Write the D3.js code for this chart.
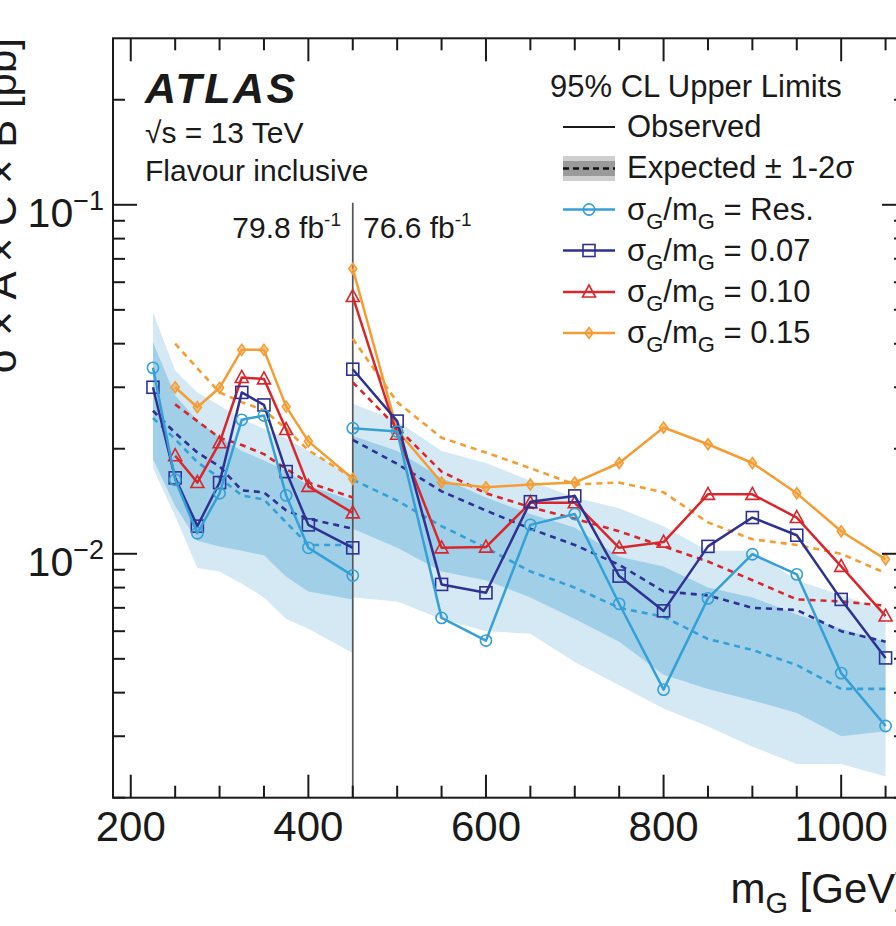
<!DOCTYPE html>
<html><head><meta charset="utf-8">
<script src="https://cdn.jsdelivr.net/npm/d3@7"></script>
<style>
body{margin:0;background:#fff}
svg{display:block}
text{font-family:"Liberation Sans",Arial,Helvetica,sans-serif;fill:#1a1a1a}
</style>
</head><body><svg id="c" width="896" height="926"></svg>
<script>
// ---------------- data ----------------
const massLeft  = [225, 250, 275, 300, 325, 350, 375, 400, 450];
const massRight = [450, 500, 550, 600, 650, 700, 750, 800, 850, 900, 950, 1000, 1050];

// observed limits, low-mass range (79.8 fb-1)
const obsResL = [0.0341, 0.0163, 0.01145, 0.0149, 0.0242, 0.0249, 0.0147, 0.0104, 0.00866];
const obs07L  = [0.0300, 0.0165, 0.0120, 0.0160, 0.0290, 0.0267, 0.0172, 0.0121, 0.0104];
const obs10L  = [null, 0.0191, 0.0160, 0.0208, 0.0320, 0.0317, 0.0227, 0.0156, 0.0131];
const obs15L  = [null, 0.0300, 0.0263, 0.0299, 0.0384, 0.0384, 0.0264, 0.0210, 0.0164];
// expected limits, low-mass range
const expResL = [0.0245, 0.0213, 0.0183, 0.0165, 0.0147, 0.0143, 0.0123, 0.0106, 0.0106];
const exp07L  = [0.0257, 0.0222, 0.0195, 0.0178, 0.0152, 0.0150, 0.0133, 0.0126, 0.0118];
const exp10L  = [null, 0.0268, 0.0240, 0.0215, 0.0205, 0.0193, 0.0175, 0.0160, 0.0145];
const exp15L  = [null, 0.0400, 0.0340, 0.0290, 0.0272, 0.0258, 0.0228, 0.0198, 0.0165];
// expected +-1/2 sigma bands, low-mass range
const up2L = [0.0492, 0.0335, 0.0290, 0.0266, 0.0244, 0.0228, 0.0214, 0.0197, 0.0166];
const up1L = [0.0404, 0.0284, 0.0241, 0.0216, 0.0197, 0.0185, 0.0173, 0.0157, 0.0142];
const dn1L = [0.0187, 0.0137, 0.0109, 0.0105, 0.0102, 0.0099, 0.0086, 0.0078, 0.0074];
const dn2L = [0.0176, 0.0128, 0.0091, 0.0089, 0.0082, 0.0075, 0.0065, 0.0061, 0.0052];

// observed limits, high-mass range (76.6 fb-1)
const obsResR = [0.0229, 0.0224, 0.00655, 0.00564, 0.0121, 0.0130, 0.00719, 0.00408, 0.00745, 0.00997, 0.00873, 0.00455, 0.00321];
const obs07R  = [0.0338, 0.0240, 0.00817, 0.00773, 0.0141, 0.01465, 0.00863, 0.00686, 0.0105, 0.0127, 0.0113, 0.0074, 0.00503];
const obs10R  = [0.0546, 0.0220, 0.0104, 0.01045, 0.0140, 0.0140, 0.0104, 0.0108, 0.0148, 0.0148, 0.0127, 0.0092, 0.00663];
const obs15R  = [0.0656, 0.0226, 0.0160, 0.0155, 0.0158, 0.0160, 0.0182, 0.0230, 0.0206, 0.0182, 0.0149, 0.0116, 0.00964];
// expected limits, high-mass range
const expResR = [0.0163, 0.0142, 0.0120, 0.0104, 0.0089, 0.0080, 0.0070, 0.0066, 0.0057, 0.0053, 0.0048, 0.0041, 0.0041];
const exp07R  = [0.0212, 0.0181, 0.0151, 0.0133, 0.0118, 0.0106, 0.0093, 0.0078, 0.0076, 0.0070, 0.0069, 0.0060, 0.0056];
const exp10R  = [0.0310, 0.0230, 0.0172, 0.0149, 0.0136, 0.0126, 0.0116, 0.0105, 0.0095, 0.0084, 0.0074, 0.0073, 0.0071];
const exp15R  = [0.0413, 0.0272, 0.0215, 0.0195, 0.0176, 0.0158, 0.0160, 0.0150, 0.0123, 0.0110, 0.0106, 0.0100, 0.0088];
// bands, high-mass range
const up2R = [0.0269, 0.0240, 0.0197, 0.0182, 0.0162, 0.0145, 0.0135, 0.0120, 0.0102, 0.0102, 0.0084, 0.0076, 0.0069];
const up1R = [0.0218, 0.0197, 0.0165, 0.0145, 0.0130, 0.0119, 0.0098, 0.0092, 0.0080, 0.0075, 0.0067, 0.0061, 0.0056];
const dn1R = [0.0118, 0.0104, 0.0089, 0.0084, 0.0075, 0.0065, 0.0056, 0.0045, 0.0041, 0.0038, 0.0035, 0.0030, 0.0031];
const dn2R = [0.0075, 0.0073, 0.0065, 0.0060, 0.0059, 0.0049, 0.0042, 0.0036, 0.0032, 0.0028, 0.0025, 0.0025, 0.0023];

const seriesNames = ["Res.", "0.07", "0.10", "0.15"];
const xMajorTicks = [200, 400, 600, 800, 1000];
const yMajorTicks = [0.01, 0.1];
const yTickExp = ["\u22122", "\u22121"];
const lumiLabels = ["79.8 fb", "76.6 fb"];
const splitMass = 450;

// ---------------- layout / style ----------------
const L = 113, R = 906, T = 38.3, B = 797.7;
const colors = ["#35a0d5", "#2e3192", "#d7272d", "#f49d34"];
const markers = ["circle", "square", "triangle", "diamond"];
const bandOuter = "#d5e9f5", bandInner = "#a2cfe8";

const svg = d3.select("#c");
const x = d3.scaleLinear().domain([180, 1073]).range([L, R]);
const y = d3.scaleLog().domain([0.002, 0.3]).range([B, T]);

// bands
function band(ms, lo, hi, fill) {
  const pts = ms.map((m, i) => ({m, lo: lo[i], hi: hi[i]}));
  svg.append("path").datum(pts)
    .attr("d", d3.area().x(d => x(d.m)).y0(d => y(d.lo)).y1(d => y(d.hi)))
    .attr("fill", fill).attr("stroke", "none");
}
band(massLeft, dn2L, up2L, bandOuter);
band(massLeft, dn1L, up1L, bandInner);
band(massRight, dn2R, up2R, bandOuter);
band(massRight, dn1R, up1R, bandInner);

// divider
svg.append("line").attr("x1", x(splitMass)).attr("x2", x(splitMass))
  .attr("y1", y(0.1) - 2).attr("y2", B).attr("stroke", "#555").attr("stroke-width", 1.7);

const line = d3.line().defined(d => d.v != null).x(d => x(d.m)).y(d => y(d.v));
function drawLine(ms, vals, color, dashed) {
  const pts = ms.map((m, i) => ({m, v: vals[i]}));
  svg.append("path").datum(pts).attr("d", line)
    .attr("fill", "none").attr("stroke", color)
    .attr("stroke-width", dashed ? 2.6 : 2.5)
    .attr("stroke-dasharray", dashed ? "6,5" : null)
    .attr("stroke-linejoin", "round");
}
function marker(g, type, cx, cy, color) {
  let el;
  if (type === "circle") el = g.append("circle").attr("cx", cx).attr("cy", cy).attr("r", 5.6);
  else if (type === "square") el = g.append("rect").attr("x", cx - 6).attr("y", cy - 6).attr("width", 12).attr("height", 12);
  else if (type === "triangle") el = g.append("path").attr("d", `M${cx},${cy-7}L${cx+6.5},${cy+5}L${cx-6.5},${cy+5}Z`);
  else el = g.append("path").attr("d", `M${cx},${cy-5.5}L${cx+4},${cy}L${cx},${cy+5.5}L${cx-4},${cy}Z`);
  el.attr("fill", type === "diamond" ? color : "none").attr("fill-opacity", type === "diamond" ? 0.5 : null)
    .attr("stroke", color).attr("stroke-width", 1.6);
}
function drawObs(ms, vals, k) {
  drawLine(ms, vals, colors[k], false);
  const g = svg.append("g");
  ms.forEach((m, i) => { if (vals[i] != null) marker(g, markers[k], x(m), y(vals[i]), colors[k]); });
}

const expL = [expResL, exp07L, exp10L, exp15L], expR = [expResR, exp07R, exp10R, exp15R];
const obsL = [obsResL, obs07L, obs10L, obs15L], obsR = [obsResR, obs07R, obs10R, obs15R];
[3, 2, 1, 0].forEach(k => { drawLine(massLeft, expL[k], colors[k], true); drawLine(massRight, expR[k], colors[k], true); });
[3, 2, 1, 0].forEach(k => { drawObs(massLeft, obsL[k], k); drawObs(massRight, obsR[k], k); });

// ---------------- frame & ticks ----------------
const frame = svg.append("g").attr("stroke", "#1a1a1a").attr("stroke-width", 2).attr("fill", "none");
frame.append("rect").attr("x", L).attr("y", T).attr("width", R - L).attr("height", B - T);
const xMinor = d3.range(200, 1051, 50);
xMinor.forEach(v => {
  const len = xMajorTicks.includes(v) ? 23 : 12;
  frame.append("line").attr("x1", x(v)).attr("x2", x(v)).attr("y1", B).attr("y2", B - len);
  frame.append("line").attr("x1", x(v)).attr("x2", x(v)).attr("y1", T).attr("y2", T + len);
});
const yTicks = [];
[0.001, 0.01, 0.1].forEach(d => d3.range(1, 10).forEach(k => { const v = +(k * d).toPrecision(3); if (v >= 0.002 && v < 0.3) yTicks.push(v); }));
yTicks.forEach(v => {
  const len = yMajorTicks.includes(v) ? 24 : 12;
  frame.append("line").attr("x1", L).attr("x2", L + len).attr("y1", y(v)).attr("y2", y(v));
  frame.append("line").attr("x1", R).attr("x2", R - len).attr("y1", y(v)).attr("y2", y(v));
});

// tick labels
svg.append("g").selectAll("text").data(xMajorTicks).join("text")
  .attr("x", d => x(d)).attr("y", 841).attr("text-anchor", "middle")
  .attr("font-size", 42).text(d => d);
yMajorTicks.forEach((v, i) => {
  const t = svg.append("text").attr("x", 104).attr("y", y(v) + 22).attr("text-anchor", "end").attr("font-size", 41);
  t.append("tspan").text("10");
  t.append("tspan").attr("font-size", 27).attr("dy", -17).text(yTickExp[i]);
});

// axis titles
const xt = svg.append("text").attr("x", 907).attr("y", 903).attr("text-anchor", "end").attr("font-size", 42);
xt.append("tspan").text("m");
xt.append("tspan").attr("font-size", 29).attr("dy", 10).text("G");
xt.append("tspan").attr("dy", -10).text(" [GeV]");
svg.append("text").attr("transform", "translate(16,38) rotate(-90)").attr("text-anchor", "end")
  .attr("font-size", 42).text("\u03c3 \u00d7 A \u00d7 C \u00d7 B [pb]");

// ---------------- annotations ----------------
svg.append("text").attr("x", 145).attr("y", 103).attr("font-size", 43).attr("font-weight", "bold")
  .attr("font-style", "italic").attr("letter-spacing", 2.5).text("ATLAS");
svg.append("text").attr("x", 145).attr("y", 143).attr("font-size", 30).text("\u221as = 13 TeV");
svg.append("text").attr("x", 145).attr("y", 181).attr("font-size", 30).text("Flavour inclusive");
const l1 = svg.append("text").attr("x", 341).attr("y", 238).attr("text-anchor", "end").attr("font-size", 30);
l1.append("tspan").text(lumiLabels[0]); l1.append("tspan").attr("font-size", 19).attr("dy", -12).text("-1");
const l2 = svg.append("text").attr("x", 363).attr("y", 238).attr("font-size", 30);
l2.append("tspan").text(lumiLabels[1]); l2.append("tspan").attr("font-size", 19).attr("dy", -12).text("-1");

// ---------------- legend ----------------
const lx0 = 563, lx1 = 615, ltx = 627;
svg.append("text").attr("x", 550).attr("y", 97).attr("font-size", 31).text("95% CL Upper Limits");
const rows = [137, 178, 219.5, 260.5, 302, 343];
svg.append("line").attr("x1", lx0).attr("x2", lx1).attr("y1", rows[0] - 10).attr("y2", rows[0] - 10).attr("stroke", "#1a1a1a").attr("stroke-width", 2);
svg.append("text").attr("x", ltx).attr("y", rows[0]).attr("font-size", 31).text("Observed");
svg.append("rect").attr("x", lx0).attr("y", rows[1] - 22).attr("width", lx1 - lx0).attr("height", 25).attr("fill", "#cfcfcf");
svg.append("rect").attr("x", lx0).attr("y", rows[1] - 17).attr("width", lx1 - lx0).attr("height", 15).attr("fill", "#9a9a9a");
svg.append("line").attr("x1", lx0).attr("x2", lx1).attr("y1", rows[1] - 9.5).attr("y2", rows[1] - 9.5).attr("stroke", "#111").attr("stroke-width", 2.6).attr("stroke-dasharray", "6,4");
svg.append("text").attr("x", ltx).attr("y", rows[1]).attr("font-size", 31).text("Expected \u00b1 1-2\u03c3");
seriesNames.forEach((nm, k) => {
  const yy = rows[k + 2];
  svg.append("line").attr("x1", lx0).attr("x2", lx1).attr("y1", yy - 10).attr("y2", yy - 10).attr("stroke", colors[k]).attr("stroke-width", 2.4);
  marker(svg.append("g"), markers[k], (lx0 + lx1) / 2, yy - 10, colors[k]);
  const t = svg.append("text").attr("x", ltx).attr("y", yy).attr("font-size", 31);
  t.append("tspan").text("\u03c3");
  t.append("tspan").attr("font-size", 22).attr("dy", 9).text("G");
  t.append("tspan").attr("dy", -9).text("/m");
  t.append("tspan").attr("font-size", 22).attr("dy", 9).text("G");
  t.append("tspan").attr("dy", -9).text(" = " + nm);
});
</script>
</body></html>
